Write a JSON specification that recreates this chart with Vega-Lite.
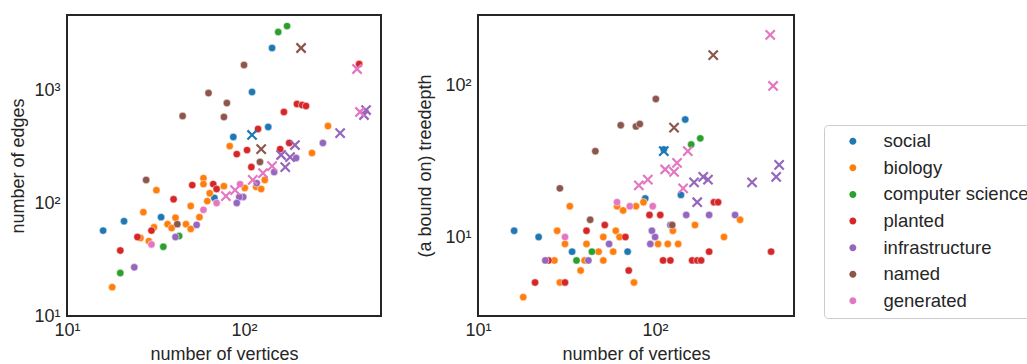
{
"$schema": "https://vega.github.io/schema/vega-lite/v6.json",
"padding": {"left": 8, "top": 14, "right": 0, "bottom": 0},
"background": "white",
"datasets": {
"edges": [
{"vertices":144,"edges":2355,"category":"social","marker":"o"},
{"vertices":111,"edges":960,"category":"social","marker":"o"},
{"vertices":137,"edges":471,"category":"social","marker":"o"},
{"vertices":87,"edges":384,"category":"social","marker":"o"},
{"vertices":68,"edges":111,"category":"social","marker":"o"},
{"vertices":34,"edges":75,"category":"social","marker":"o"},
{"vertices":21,"edges":69,"category":"social","marker":"o"},
{"vertices":16,"edges":57,"category":"social","marker":"o"},
{"vertices":111,"edges":400,"category":"social","marker":"x"},
{"vertices":298,"edges":480,"category":"biology","marker":"o"},
{"vertices":83,"edges":319,"category":"biology","marker":"o"},
{"vertices":242,"edges":277,"category":"biology","marker":"o"},
{"vertices":131,"edges":160,"category":"biology","marker":"o"},
{"vertices":117,"edges":139,"category":"biology","marker":"o"},
{"vertices":125,"edges":133,"category":"biology","marker":"o"},
{"vertices":101,"edges":136,"category":"biology","marker":"o"},
{"vertices":77,"edges":141,"category":"biology","marker":"o"},
{"vertices":59,"edges":166,"category":"biology","marker":"o"},
{"vertices":59,"edges":147,"category":"biology","marker":"o"},
{"vertices":64,"edges":122,"category":"biology","marker":"o"},
{"vertices":62,"edges":104,"category":"biology","marker":"o"},
{"vertices":50,"edges":94,"category":"biology","marker":"o"},
{"vertices":56,"edges":75,"category":"biology","marker":"o"},
{"vertices":47,"edges":65,"category":"biology","marker":"o"},
{"vertices":50,"edges":59,"category":"biology","marker":"o"},
{"vertices":32,"edges":130,"category":"biology","marker":"o"},
{"vertices":27,"edges":83,"category":"biology","marker":"o"},
{"vertices":41,"edges":74,"category":"biology","marker":"o"},
{"vertices":37,"edges":65,"category":"biology","marker":"o"},
{"vertices":39,"edges":60,"category":"biology","marker":"o"},
{"vertices":31,"edges":61,"category":"biology","marker":"o"},
{"vertices":26,"edges":49,"category":"biology","marker":"o"},
{"vertices":29,"edges":46,"category":"biology","marker":"o"},
{"vertices":18,"edges":18,"category":"biology","marker":"o"},
{"vertices":156,"edges":3260,"category":"computer science","marker":"o"},
{"vertices":175,"edges":3680,"category":"computer science","marker":"o"},
{"vertices":35,"edges":41,"category":"computer science","marker":"o"},
{"vertices":43,"edges":51,"category":"computer science","marker":"o"},
{"vertices":20,"edges":24,"category":"computer science","marker":"o"},
{"vertices":447,"edges":1698,"category":"planted","marker":"o"},
{"vertices":199,"edges":752,"category":"planted","marker":"o"},
{"vertices":213,"edges":736,"category":"planted","marker":"o"},
{"vertices":224,"edges":722,"category":"planted","marker":"o"},
{"vertices":168,"edges":639,"category":"planted","marker":"o"},
{"vertices":120,"edges":452,"category":"planted","marker":"o"},
{"vertices":91,"edges":271,"category":"planted","marker":"o"},
{"vertices":104,"edges":294,"category":"planted","marker":"o"},
{"vertices":160,"edges":300,"category":"planted","marker":"o"},
{"vertices":180,"edges":340,"category":"planted","marker":"o"},
{"vertices":110,"edges":208,"category":"planted","marker":"o"},
{"vertices":51,"edges":144,"category":"planted","marker":"o"},
{"vertices":67,"edges":147,"category":"planted","marker":"o"},
{"vertices":70,"edges":133,"category":"planted","marker":"o"},
{"vertices":40,"edges":108,"category":"planted","marker":"o"},
{"vertices":30,"edges":57,"category":"planted","marker":"o"},
{"vertices":25,"edges":50,"category":"planted","marker":"o"},
{"vertices":20,"edges":38,"category":"planted","marker":"o"},
{"vertices":279,"edges":340,"category":"infrastructure","marker":"o"},
{"vertices":197,"edges":250,"category":"infrastructure","marker":"o"},
{"vertices":148,"edges":188,"category":"infrastructure","marker":"o"},
{"vertices":118,"edges":150,"category":"infrastructure","marker":"o"},
{"vertices":99,"edges":113,"category":"infrastructure","marker":"o"},
{"vertices":94,"edges":113,"category":"infrastructure","marker":"o"},
{"vertices":91,"edges":100,"category":"infrastructure","marker":"o"},
{"vertices":54,"edges":64,"category":"infrastructure","marker":"o"},
{"vertices":41,"edges":50,"category":"infrastructure","marker":"o"},
{"vertices":24,"edges":27,"category":"infrastructure","marker":"o"},
{"vertices":489,"edges":665,"category":"infrastructure","marker":"x"},
{"vertices":476,"edges":601,"category":"infrastructure","marker":"x"},
{"vertices":349,"edges":416,"category":"infrastructure","marker":"x"},
{"vertices":194,"edges":326,"category":"infrastructure","marker":"x"},
{"vertices":162,"edges":266,"category":"infrastructure","marker":"x"},
{"vertices":182,"edges":255,"category":"infrastructure","marker":"x"},
{"vertices":171,"edges":208,"category":"infrastructure","marker":"x"},
{"vertices":100,"edges":1663,"category":"named","marker":"o"},
{"vertices":63,"edges":940,"category":"named","marker":"o"},
{"vertices":80,"edges":767,"category":"named","marker":"o"},
{"vertices":77,"edges":577,"category":"named","marker":"o"},
{"vertices":45,"edges":589,"category":"named","marker":"o"},
{"vertices":123,"edges":231,"category":"named","marker":"o"},
{"vertices":28,"edges":160,"category":"named","marker":"o"},
{"vertices":42,"edges":65,"category":"named","marker":"o"},
{"vertices":210,"edges":2355,"category":"named","marker":"x"},
{"vertices":125,"edges":300,"category":"named","marker":"x"},
{"vertices":95,"edges":147,"category":"generated","marker":"o"},
{"vertices":70,"edges":100,"category":"generated","marker":"o"},
{"vertices":59,"edges":87,"category":"generated","marker":"o"},
{"vertices":30,"edges":43,"category":"generated","marker":"o"},
{"vertices":435,"edges":1535,"category":"generated","marker":"x"},
{"vertices":452,"edges":639,"category":"generated","marker":"x"},
{"vertices":144,"edges":212,"category":"generated","marker":"x"},
{"vertices":128,"edges":184,"category":"generated","marker":"x"},
{"vertices":112,"edges":160,"category":"generated","marker":"x"},
{"vertices":89,"edges":130,"category":"generated","marker":"x"},
{"vertices":79,"edges":115,"category":"generated","marker":"x"}
],
"depth": [
{"vertices":16,"treedepth":11,"category":"social","marker":"o"},
{"vertices":22,"treedepth":10,"category":"social","marker":"o"},
{"vertices":34,"treedepth":8,"category":"social","marker":"o"},
{"vertices":70,"treedepth":8,"category":"social","marker":"o"},
{"vertices":88,"treedepth":18,"category":"social","marker":"o"},
{"vertices":140,"treedepth":19,"category":"social","marker":"o"},
{"vertices":148,"treedepth":60,"category":"social","marker":"o"},
{"vertices":112,"treedepth":38,"category":"social","marker":"o"},
{"vertices":112,"treedepth":37,"category":"social","marker":"x"},
{"vertices":33,"treedepth":16,"category":"biology","marker":"o"},
{"vertices":61,"treedepth":16,"category":"biology","marker":"o"},
{"vertices":66,"treedepth":15,"category":"biology","marker":"o"},
{"vertices":78,"treedepth":16,"category":"biology","marker":"o"},
{"vertices":86,"treedepth":17,"category":"biology","marker":"o"},
{"vertices":28,"treedepth":11,"category":"biology","marker":"o"},
{"vertices":31,"treedepth":9,"category":"biology","marker":"o"},
{"vertices":41,"treedepth":9,"category":"biology","marker":"o"},
{"vertices":51,"treedepth":10,"category":"biology","marker":"o"},
{"vertices":60,"treedepth":11,"category":"biology","marker":"o"},
{"vertices":63,"treedepth":10,"category":"biology","marker":"o"},
{"vertices":48,"treedepth":8,"category":"biology","marker":"o"},
{"vertices":58,"treedepth":8,"category":"biology","marker":"o"},
{"vertices":27,"treedepth":7,"category":"biology","marker":"o"},
{"vertices":40,"treedepth":7,"category":"biology","marker":"o"},
{"vertices":51,"treedepth":7,"category":"biology","marker":"o"},
{"vertices":38,"treedepth":6,"category":"biology","marker":"o"},
{"vertices":29,"treedepth":5,"category":"biology","marker":"o"},
{"vertices":76,"treedepth":5,"category":"biology","marker":"o"},
{"vertices":18,"treedepth":4,"category":"biology","marker":"o"},
{"vertices":104,"treedepth":9,"category":"biology","marker":"o"},
{"vertices":118,"treedepth":9,"category":"biology","marker":"o"},
{"vertices":135,"treedepth":9,"category":"biology","marker":"o"},
{"vertices":245,"treedepth":10,"category":"biology","marker":"o"},
{"vertices":302,"treedepth":13,"category":"biology","marker":"o"},
{"vertices":168,"treedepth":12,"category":"biology","marker":"o"},
{"vertices":126,"treedepth":11,"category":"biology","marker":"o"},
{"vertices":180,"treedepth":45,"category":"computer science","marker":"o"},
{"vertices":160,"treedepth":41,"category":"computer science","marker":"o"},
{"vertices":44,"treedepth":8,"category":"computer science","marker":"o"},
{"vertices":36,"treedepth":7,"category":"computer science","marker":"o"},
{"vertices":215,"treedepth":17,"category":"planted","marker":"o"},
{"vertices":227,"treedepth":17,"category":"planted","marker":"o"},
{"vertices":93,"treedepth":14,"category":"planted","marker":"o"},
{"vertices":107,"treedepth":14,"category":"planted","marker":"o"},
{"vertices":52,"treedepth":12,"category":"planted","marker":"o"},
{"vertices":41,"treedepth":11,"category":"planted","marker":"o"},
{"vertices":68,"treedepth":10,"category":"planted","marker":"o"},
{"vertices":202,"treedepth":8,"category":"planted","marker":"o"},
{"vertices":452,"treedepth":8,"category":"planted","marker":"o"},
{"vertices":111,"treedepth":7,"category":"planted","marker":"o"},
{"vertices":122,"treedepth":7,"category":"planted","marker":"o"},
{"vertices":162,"treedepth":7,"category":"planted","marker":"o"},
{"vertices":173,"treedepth":7,"category":"planted","marker":"o"},
{"vertices":182,"treedepth":7,"category":"planted","marker":"o"},
{"vertices":71,"treedepth":6,"category":"planted","marker":"o"},
{"vertices":21,"treedepth":5,"category":"planted","marker":"o"},
{"vertices":31,"treedepth":5,"category":"planted","marker":"o"},
{"vertices":25,"treedepth":7,"category":"planted","marker":"o"},
{"vertices":150,"treedepth":14,"category":"infrastructure","marker":"o"},
{"vertices":202,"treedepth":14,"category":"infrastructure","marker":"o"},
{"vertices":283,"treedepth":14,"category":"infrastructure","marker":"o"},
{"vertices":122,"treedepth":12,"category":"infrastructure","marker":"o"},
{"vertices":96,"treedepth":11,"category":"infrastructure","marker":"o"},
{"vertices":100,"treedepth":10,"category":"infrastructure","marker":"o"},
{"vertices":94,"treedepth":9,"category":"infrastructure","marker":"o"},
{"vertices":55,"treedepth":9,"category":"infrastructure","marker":"o"},
{"vertices":42,"treedepth":7,"category":"infrastructure","marker":"o"},
{"vertices":24,"treedepth":7,"category":"infrastructure","marker":"o"},
{"vertices":502,"treedepth":30,"category":"infrastructure","marker":"x"},
{"vertices":483,"treedepth":25,"category":"infrastructure","marker":"x"},
{"vertices":187,"treedepth":25,"category":"infrastructure","marker":"x"},
{"vertices":199,"treedepth":24,"category":"infrastructure","marker":"x"},
{"vertices":166,"treedepth":23,"category":"infrastructure","marker":"x"},
{"vertices":353,"treedepth":23,"category":"infrastructure","marker":"x"},
{"vertices":173,"treedepth":17,"category":"infrastructure","marker":"x"},
{"vertices":101,"treedepth":82,"category":"named","marker":"o"},
{"vertices":64,"treedepth":55,"category":"named","marker":"o"},
{"vertices":78,"treedepth":54,"category":"named","marker":"o"},
{"vertices":82,"treedepth":56,"category":"named","marker":"o"},
{"vertices":46,"treedepth":37,"category":"named","marker":"o"},
{"vertices":29,"treedepth":21,"category":"named","marker":"o"},
{"vertices":43,"treedepth":13,"category":"named","marker":"o"},
{"vertices":125,"treedepth":12,"category":"named","marker":"o"},
{"vertices":213,"treedepth":160,"category":"named","marker":"x"},
{"vertices":128,"treedepth":53,"category":"named","marker":"x"},
{"vertices":61,"treedepth":17,"category":"generated","marker":"o"},
{"vertices":72,"treedepth":16,"category":"generated","marker":"o"},
{"vertices":97,"treedepth":16,"category":"generated","marker":"o"},
{"vertices":31,"treedepth":10,"category":"generated","marker":"o"},
{"vertices":447,"treedepth":218,"category":"generated","marker":"x"},
{"vertices":464,"treedepth":100,"category":"generated","marker":"x"},
{"vertices":153,"treedepth":37,"category":"generated","marker":"x"},
{"vertices":133,"treedepth":31,"category":"generated","marker":"x"},
{"vertices":114,"treedepth":28,"category":"generated","marker":"x"},
{"vertices":128,"treedepth":27,"category":"generated","marker":"x"},
{"vertices":91,"treedepth":24,"category":"generated","marker":"x"},
{"vertices":81,"treedepth":22,"category":"generated","marker":"x"},
{"vertices":144,"treedepth":21,"category":"generated","marker":"x"}
]
},
"config": {
"font": "Liberation Sans",
"view": {"stroke": "#262626", "strokeWidth": 2},
"axis": {"grid": false, "ticks": false, "domain": false, "labelFontSize": 18, "titleFontSize": 18, "labelColor": "#262626", "titleColor": "#262626", "titleFontWeight": "normal", "labelFlush": false, "labelOverlap": false},
"legend": {"orient": "none", "legendX": 757, "legendY": 110, "title": null, "symbolType": "M2.6,0A1,1 0 1,1 4.6,0A1,1 0 1,1 2.6,0Z", "symbolSize": 49, "symbolStrokeWidth": 0, "labelFontSize": 18.5, "labelColor": "#262626", "strokeColor": "#cccccc", "cornerRadius": 4, "fillColor": "white", "padding": 7, "rowPadding": 7.6, "symbolOffset": 0, "labelOffset": 34, "labelLimit": 400}
},
"spacing": 33,
"resolve": {"scale": {"color": "shared"}},
"hconcat": [
{
"width": 314, "height": 301,
"data": {"name": "edges"},
"encoding": {
"x": {"field": "vertices", "type": "quantitative", "scale": {"type": "log", "domain": [10, 594], "nice": false}, "axis": {"values": [10, 100], "labelExpr": "datum.value == 10 ? '10¹' : datum.value == 100 ? '10²' : '10³'", "title": "number of vertices", "labelPadding": 5, "titlePadding": 6}},
"y": {"field": "edges", "type": "quantitative", "scale": {"type": "log", "domain": [10, 4613], "nice": false}, "axis": {"values": [10, 100, 1000], "labelExpr": "datum.value == 10 ? '10¹' : datum.value == 100 ? '10²' : '10³'", "title": "number of edges", "labelPadding": 7, "titlePadding": 6}},
"color": {"field": "category", "type": "nominal", "scale": {"domain": ["social", "biology", "computer science", "planted", "infrastructure", "named", "generated"], "range": ["#1f77b4", "#ff7f0e", "#2ca02c", "#d62728", "#9467bd", "#8c564b", "#e377c2"]}}
},
"layer": [
{"transform": [{"filter": "datum.marker == 'o'"}], "mark": {"type": "point", "filled": true, "size": 55, "opacity": 1, "stroke": "white", "strokeWidth": 0.5}},
{"transform": [{"filter": "datum.marker == 'x'"}], "mark": {"type": "point", "filled": false, "shape": "M-1,-1L1,1M1,-1L-1,1", "size": 85, "strokeWidth": 2.2, "opacity": 1}}
]
},
{
"width": 316, "height": 301,
"data": {"name": "depth"},
"encoding": {
"x": {"field": "vertices", "type": "quantitative", "scale": {"type": "log", "domain": [10, 609], "nice": false}, "axis": {"values": [10, 100], "labelExpr": "datum.value == 10 ? '10¹' : datum.value == 100 ? '10²' : '10³'", "title": "number of vertices", "labelPadding": 5, "titlePadding": 6}},
"y": {"field": "treedepth", "type": "quantitative", "scale": {"type": "log", "domain": [3, 295], "nice": false}, "axis": {"values": [10, 100], "labelExpr": "datum.value == 10 ? '10¹' : datum.value == 100 ? '10²' : '10³'", "title": "(a bound on) treedepth", "labelPadding": 7, "titlePadding": 10}},
"color": {"field": "category", "type": "nominal", "scale": {"domain": ["social", "biology", "computer science", "planted", "infrastructure", "named", "generated"], "range": ["#1f77b4", "#ff7f0e", "#2ca02c", "#d62728", "#9467bd", "#8c564b", "#e377c2"]}}
},
"layer": [
{"transform": [{"filter": "datum.marker == 'o'"}], "mark": {"type": "point", "filled": true, "size": 55, "opacity": 1, "stroke": "white", "strokeWidth": 0.5}},
{"transform": [{"filter": "datum.marker == 'x'"}], "mark": {"type": "point", "filled": false, "shape": "M-1,-1L1,1M1,-1L-1,1", "size": 85, "strokeWidth": 2.2, "opacity": 1}}
]
}
]
}
